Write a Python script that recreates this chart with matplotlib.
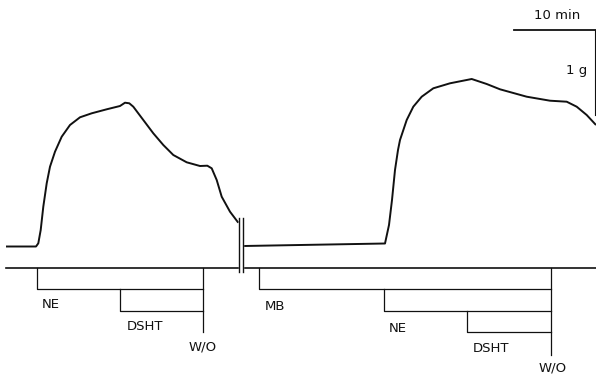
import matplotlib
matplotlib.use("Agg")
import matplotlib.pyplot as plt

trace1_x = [6, 36, 38.3, 40.7, 43.3, 46.7, 50, 55, 61.7, 70, 80, 91.7, 106.7, 120, 125,
            129.3, 133.3, 143.3, 153.3, 163.3, 173.3, 186.7, 200, 207.3, 211.7, 216.7,
            221.7, 230, 238.3]
trace1_y = [246.5, 246.5, 243.3, 230, 206.7, 183.3, 166.7, 151.7, 136.7, 125, 117.3, 113.3,
            109.3, 106, 102.7, 103.3, 106.7, 120, 133.3, 145, 155, 162.3, 166, 165.7,
            168.3, 180, 196.7, 211.7, 222.7]

trace2_x = [244, 300, 385, 389, 392, 395, 398, 400, 406.7, 413.3, 421.7, 433.3, 450, 471.7,
            486.7, 500, 526.7, 550, 566.7, 576.7, 586.7, 596]
trace2_y = [246, 245, 243.5, 225, 200, 170, 150, 140, 120, 106.7, 96.7, 88.3, 83.3, 79,
            84, 89.3, 96.7, 100.7, 101.7, 106.7, 115, 125]

# drug application brackets: (start x, end x, top y, bottom y, label, label x, label y)
bracket_labels = ["NE", "DSHT", "MB", "NE", "DSHT"]
bracket_start = [37, 120, 259, 384, 467]
bracket_end = [203, 203, 551, 551, 551]
bracket_top = [268, 289, 268, 289, 311]
bracket_bottom = [289, 311, 289, 311, 332]
label_x = [42, 127, 265, 389, 473]
label_y = [305, 327, 307, 328, 348]

washout_x = [203, 551]
washout_bottom = [332, 355]
washout_label_x = [202.5, 552.5]
washout_label_y = [347.5, 368]

time_axis_y = 268
scale_time_label = "10 min"
scale_force_label = "1 g"

# ---- figure ----
W, H, DPI = 596, 374, 100
fig = plt.figure(figsize=(W / DPI, H / DPI), dpi=DPI)
ax = fig.add_axes([0, 0, 1, 1])
ax.set_xlim(0, W)
ax.set_ylim(H, 0)
ax.axis("off")

ink = "#111111"
fs = 9.5
font = "DejaVu Sans"

# force traces
ax.plot(trace1_x, trace1_y, color=ink, lw=1.4, solid_capstyle="butt")
ax.plot(trace2_x, trace2_y, color=ink, lw=1.4, solid_capstyle="butt")

# time axis
ax.plot([6, 596], [time_axis_y, time_axis_y], color=ink, lw=1.2)

# break mark
ax.fill_between([239, 242.5], 218, 272, color="white", zorder=3)
for bx in (239, 242.5):
    ax.plot([bx, bx], [218, 272], color=ink, lw=1.0, zorder=4)

# brackets
for s, e, t, b, lab, lx, ly in zip(bracket_start, bracket_end, bracket_top, bracket_bottom,
                                   bracket_labels, label_x, label_y):
    ax.plot([s, s, e], [t, b, b], color=ink, lw=0.9)
    ax.text(lx, ly, lab, fontsize=fs, family=font, color=ink, ha="left", va="center")

# wash-out lines
for wx, wb, tx, ty in zip(washout_x, washout_bottom, washout_label_x, washout_label_y):
    ax.plot([wx, wx], [time_axis_y, wb], color=ink, lw=0.9)
    ax.text(tx, ty, "W/O", fontsize=fs, family=font, color=ink, ha="center", va="center")

# scale bars
ax.plot([514, 596], [30, 30], color=ink, lw=1.3)
ax.plot([595, 595], [30, 115], color=ink, lw=0.8)
ax.text(557, 15, scale_time_label, fontsize=fs, family=font, color=ink, ha="center", va="center")
ax.text(577, 70, scale_force_label, fontsize=fs, family=font, color=ink, ha="center", va="center")

fig.savefig("out.png", dpi=DPI, facecolor="white")
